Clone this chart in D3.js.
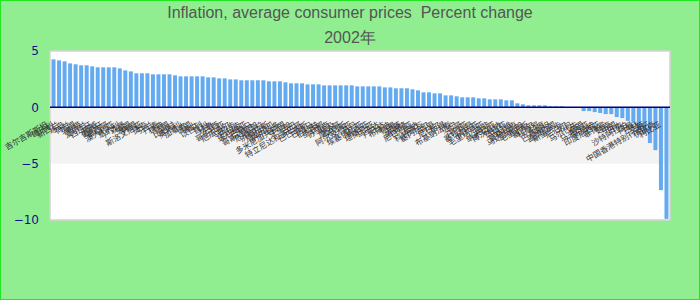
<!DOCTYPE html>
<html>
<head>
<meta charset="utf-8">
<script src="https://cdn.jsdelivr.net/npm/d3@7"></script>
<style>
  body { margin: 0; }
  text { font-family: "Liberation Sans", Arial, sans-serif; }
</style>
</head>
<body>
<div id="chart"></div>
<script>
// chart data
var titleLine1 = "Inflation, average consumer prices  Percent change";
var titleLine2 = "2002年";

var countries = [
  "吉尔吉斯斯坦", "匈牙利", "新西兰", "冰岛", "荷兰", "英国", "希腊", "爱尔兰", "西班牙", "挪威",
  "葡萄牙", "墨西哥", "澳大利亚", "意大利", "卢森堡", "美国", "韩国", "斯洛文尼亚", "捷克", "芬兰",
  "丹麦", "瑞典", "法国", "比利时", "奥地利", "加拿大", "德国", "瑞士", "以色列", "智利",
  "秘鲁", "巴西", "哥伦比亚", "厄瓜多尔", "乌拉圭", "巴拉圭", "玻利维亚", "巴拿马", "哥斯达黎加", "危地马拉",
  "洪都拉斯", "尼加拉瓜", "萨尔瓦多", "多米尼加共和国", "牙买加", "古巴", "特立尼达和多巴哥", "巴巴多斯", "巴哈马", "伯利兹",
  "圭亚那", "苏里南", "埃及", "摩洛哥", "突尼斯", "阿尔及利亚", "苏丹", "埃塞俄比亚", "肯尼亚", "坦桑尼亚",
  "乌干达", "卢旺达", "布隆迪", "刚果", "加蓬", "喀麦隆", "尼日利亚", "加纳", "科特迪瓦", "塞内加尔",
  "马里", "尼日尔", "乍得", "布基纳法索", "贝宁", "多哥", "几内亚", "塞拉利昂", "冈比亚", "毛里塔尼亚",
  "南非", "纳米比亚", "博茨瓦纳", "赞比亚", "马拉维", "莫桑比克", "马达加斯加", "毛里求斯", "塞舌尔", "科摩罗",
  "印度", "巴基斯坦", "孟加拉国", "斯里兰卡", "尼泊尔", "不丹", "马尔代夫", "泰国", "马来西亚", "新加坡",
  "印度尼西亚", "菲律宾", "越南", "中国", "日本", "沙特阿拉伯", "阿曼", "巴林", "文莱", "中国香港特别行政区",
  "伊拉克", "利比亚"
];

var values = [
  4.26, 4.17, 4.08, 3.9, 3.82, 3.73, 3.73, 3.64, 3.55, 3.55,
  3.55, 3.55, 3.46, 3.28, 3.19, 3.02, 3.02, 3.02, 2.93, 2.93,
  2.93, 2.93, 2.84, 2.75, 2.75, 2.75, 2.75, 2.75, 2.66, 2.66,
  2.57, 2.57, 2.48, 2.48, 2.4, 2.4, 2.4, 2.4, 2.4, 2.31,
  2.31, 2.31, 2.22, 2.13, 2.13, 2.13, 2.04, 2.04, 2.04, 1.95,
  1.95, 1.95, 1.95, 1.95, 1.95, 1.86, 1.86, 1.86, 1.86, 1.86,
  1.77, 1.77, 1.69, 1.69, 1.69, 1.6, 1.51, 1.33, 1.33, 1.24,
  1.24, 1.06, 1.06, 0.98, 0.89, 0.89, 0.89, 0.8, 0.8, 0.71,
  0.71, 0.71, 0.62, 0.62, 0.36, 0.27, 0.18, 0.18, 0.18, 0.18,
  0.09, 0.09, 0.09, 0, 0, 0, -0.33, -0.33, -0.42, -0.5,
  -0.6, -0.6, -0.86, -0.95, -1.2, -1.4, -2.0, -2.37, -3.17, -3.8,
  -7.35, -9.9
];

var yTicks = [5, 0, -5, -10];

// dimensions
var W = 700, H = 300;
var margin = { top: 51, right: 30, bottom: 80, left: 50 },
  width = W - margin.left - margin.right,
  height = H - margin.top - margin.bottom;

var data = countries.map(function (c, i) { return { name: c, value: values[i] }; });

var svg = d3.select("#chart")
  .append("svg")
  .attr("width", W)
  .attr("height", H);

// background + border
svg.append("rect")
  .attr("width", W)
  .attr("height", H)
  .attr("fill", "#90ee90")
  .attr("stroke", "#22e622")
  .attr("stroke-width", 2);

// title
svg.append("text")
  .attr("x", W / 2)
  .attr("y", 18)
  .attr("text-anchor", "middle")
  .style("font-size", "16px")
  .style("white-space", "pre")
  .attr("fill", "#555")
  .text(titleLine1);

svg.append("text")
  .attr("x", W / 2)
  .attr("y", 43)
  .attr("text-anchor", "middle")
  .style("font-size", "16px")
  .attr("fill", "#555")
  .text(titleLine2);

var chart = svg.append("g")
  .attr("transform", "translate(" + margin.left + "," + margin.top + ")");

// scales
var x = d3.scaleBand()
  .domain(countries)
  .range([0, width])
  .padding(0.28);

var y = d3.scaleLinear()
  .domain([-10, 5])
  .range([height, 0]);

// plot area with band between 0 and -5
chart.append("rect")
  .attr("width", width)
  .attr("height", height)
  .attr("fill", "#fff");

chart.append("rect")
  .attr("y", y(0))
  .attr("width", width)
  .attr("height", y(-5) - y(0))
  .attr("fill", "#f3f3f3");

chart.append("rect")
  .attr("width", width)
  .attr("height", height)
  .attr("fill", "none")
  .attr("stroke", "#d4d4d4")
  .attr("stroke-width", 1.5);

// bars
chart.selectAll(".bar")
  .data(data)
  .enter()
  .append("rect")
  .attr("class", "bar")
  .attr("x", function (d) { return x(d.name); })
  .attr("y", function (d) { return y(Math.max(0, d.value)); })
  .attr("width", x.bandwidth())
  .attr("height", function (d) { return Math.abs(y(d.value) - y(0)); })
  .attr("fill", "#64aaf0");

// zero line
chart.append("line")
  .attr("x1", 0)
  .attr("x2", width)
  .attr("y1", y(0))
  .attr("y2", y(0))
  .attr("stroke", "#000080")
  .attr("stroke-width", 1.5);

// y axis labels
var yAxis = chart.append("g")
  .call(d3.axisLeft(y).tickValues(yTicks).tickSize(0).tickPadding(11));
yAxis.select(".domain").remove();
yAxis.selectAll("text")
  .style("font-size", "12px")
  .style("font-family", "'DejaVu Sans', sans-serif")
  .attr("fill", "#10108c");

// rotated category labels
chart.selectAll(".xlabel")
  .data(data)
  .enter()
  .append("text")
  .attr("class", "xlabel")
  .attr("text-anchor", "end")
  .attr("transform", function (d) {
    return "translate(" + (x(d.name) + x.bandwidth() / 2 - 5) + "," + (y(0) + 19) + ") rotate(-30)";
  })
  .style("font-size", "8px")
  .style("font-family", "'Noto Sans CJK SC', sans-serif")
  .attr("fill", "#333")
  .text(function (d) { return d.name; });
</script>
</body>
</html>
